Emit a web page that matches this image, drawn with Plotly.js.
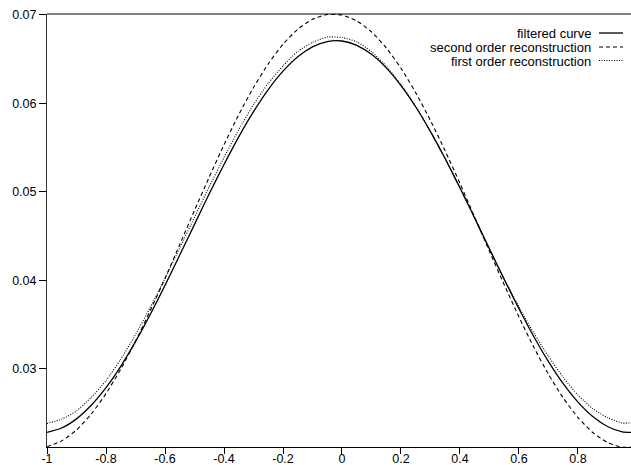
<!DOCTYPE html>
<html>
<head>
<meta charset="utf-8">
<script src="https://cdn.plot.ly/plotly-3.0.1.min.js"></script>
<style>html,body{margin:0;padding:0;background:#fff;}#chart{width:631px;height:465px;}</style>
</head>
<body>
<div id="chart"></div>
<script>
// ---- data ----
const xs = [-1, -0.95, -0.9, -0.85, -0.8, -0.75, -0.7, -0.65, -0.6, -0.55, -0.5, -0.45, -0.4, -0.35, -0.3, -0.25, -0.2, -0.15, -0.1, -0.05,
  0, 0.05, 0.1, 0.15, 0.2, 0.25, 0.3, 0.35, 0.4, 0.45, 0.5, 0.55, 0.6, 0.65, 0.7, 0.75, 0.8, 0.85, 0.9, 0.95, 1.0];

const filtered = [0.02284, 0.02333, 0.02436, 0.02589, 0.02788, 0.03030, 0.03308, 0.03615, 0.03944, 0.04287, 0.04634, 0.04980, 0.05310, 0.05623, 0.05907, 0.06157, 0.06365, 0.06528, 0.06640, 0.06700,
  0.06706, 0.06657, 0.06555, 0.06402, 0.06202, 0.05960, 0.05682, 0.05375, 0.05046, 0.04703, 0.04356, 0.04010, 0.03680, 0.03367, 0.03083, 0.02833, 0.02625, 0.02462, 0.02350, 0.02290, 0.02284];

const secondOrder = [0.02121, 0.02187, 0.02311, 0.02491, 0.02722, 0.02998, 0.03313, 0.03658, 0.04023, 0.04406, 0.04791, 0.05169, 0.05533, 0.05873, 0.06180, 0.06448, 0.06669, 0.06838, 0.06951, 0.07005,
  0.06999, 0.06933, 0.06809, 0.06629, 0.06398, 0.06122, 0.05807, 0.05462, 0.05097, 0.04714, 0.04329, 0.03951, 0.03587, 0.03247, 0.02940, 0.02672, 0.02451, 0.02282, 0.02169, 0.02115, 0.02121];

const firstOrder = [0.02384, 0.02433, 0.02526, 0.02679, 0.02868, 0.03110, 0.03388, 0.03695, 0.04024, 0.04367, 0.04714, 0.05060, 0.05390, 0.05703, 0.05987, 0.06227, 0.06425, 0.06588, 0.06690, 0.06750,
  0.06746, 0.06697, 0.06585, 0.06422, 0.06212, 0.05970, 0.05682, 0.05375, 0.05046, 0.04703, 0.04356, 0.04020, 0.03700, 0.03407, 0.03143, 0.02903, 0.02705, 0.02552, 0.02450, 0.02390, 0.02394];

const seriesNames = ["filtered curve", "second order reconstruction", "first order reconstruction"];
const xTickVals = [-1, -0.8, -0.6, -0.4, -0.2, 0, 0.2, 0.4, 0.6, 0.8];
const xTickText = ["-1", "-0.8", "-0.6", "-0.4", "-0.2", "0", "0.2", "0.4", "0.6", "0.8"];
const yTickVals = [0.03, 0.04, 0.05, 0.06, 0.07];
const yTickText = ["0.03", "0.04", "0.05", "0.06", "0.07"];

// ---- styles ----
const dashes = ["solid", "4px,3px", "1px,1.5px"];
const widths = [1.3, 1.1, 1.1];
const seriesData = [filtered, secondOrder, firstOrder];

const traces = seriesData.map((ys, i) => ({
  x: xs, y: ys, type: "scatter", mode: "lines", name: seriesNames[i],
  line: {color: "#000", width: widths[i], dash: dashes[i], shape: "spline", smoothing: 0.6},
  hoverinfo: "none"
}));

const font = {family: "Liberation Sans, Arial, Helvetica, sans-serif", size: 12.5, color: "#000"};

// legend drawn gnuplot-style: right-aligned text, sample line to its right
const legendRowsY = [0.9561, 0.9238, 0.8926];
const annotations = seriesNames.map((n, i) => ({
  xref: "paper", yref: "paper", x: 0.9332, y: legendRowsY[i], xanchor: "right", yanchor: "middle",
  height: 12, borderpad: 0,
  text: n, showarrow: false, font: {family: font.family, size: 13, color: "#000"}
}));
const shapes = seriesNames.map((n, i) => ({
  type: "line", xref: "paper", yref: "paper", x0: 0.9452, x1: 0.9863, y0: legendRowsY[i], y1: legendRowsY[i],
  line: {color: "#000", width: widths[i], dash: dashes[i]}
}));
// top border line
shapes.push({type: "line", xref: "paper", yref: "paper", x0: 0, x1: 1, y0: 1, y1: 1, line: {color: "#000", width: 1}});

const layout = {
  width: 631, height: 465,
  margin: {l: 47, r: 0, t: 14, b: 18, pad: 0},
  paper_bgcolor: "#fff", plot_bgcolor: "#fff",
  showlegend: false,
  font: font,
  xaxis: {
    range: [-1, 0.9797], autorange: false,
    tickmode: "array", tickvals: xTickVals, ticktext: xTickText,
    ticks: "outside", ticklen: 6, tickcolor: "#000", tickwidth: 1,
    ticklabelstandoff: -6,
    showline: true, linecolor: "#000", linewidth: 1,
    showgrid: false, zeroline: false, automargin: false,
    tickfont: font
  },
  yaxis: {
    range: [0.02118, 0.07011], autorange: false,
    tickmode: "array", tickvals: yTickVals, ticktext: yTickText,
    ticks: "outside", ticklen: 7, tickcolor: "#000", tickwidth: 1,
    showline: true, linecolor: "#333", linewidth: 1,
    showgrid: false, zeroline: false, automargin: false,
    tickfont: font
  },
  annotations: annotations,
  shapes: shapes
};

Plotly.newPlot("chart", traces, layout, {staticPlot: true, displayModeBar: false});
</script>
</body>
</html>
